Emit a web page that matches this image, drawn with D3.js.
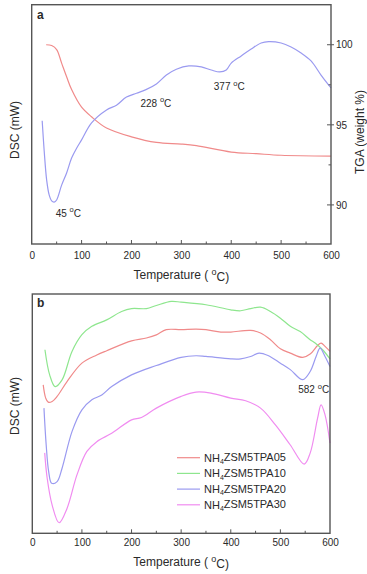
<!DOCTYPE html>
<html><head><meta charset="utf-8">
<script src="https://cdn.jsdelivr.net/npm/d3@7/dist/d3.min.js"></script>
<style>body{margin:0;background:#fff}svg{display:block}text{font-family:Arial,"Liberation Sans",sans-serif;fill:#2a2a2a}</style>
</head><body><svg id="c" width="367" height="574"></svg>
<script>
// ---- Panel a data ----
const dscT = [21,25,30,35,40,45,50,60,70,80,90,100,120,150,170,190,210,228,250,270,290,315,340,360,377,390,400,420,440,460,475,500,520,540,560,580,600];
const dscV = [51.5,39,26.7,20.5,18,17.5,18.4,24.6,29.7,35.9,40,43.5,50.6,56,58,61.4,63,64.4,66.9,70.6,73,74.4,74,72.7,71.9,72.7,75.6,78.6,81.5,84,84.6,84,82.3,79.8,76.5,70.6,65.2];
const tgaT = [29,40,50,60,70,80,100,120,150,200,250,300,330,400,450,500,600];
const tgaV = [100,99.95,99.7,98.85,98,97.2,96.1,95.5,94.8,94.25,93.9,93.8,93.7,93.3,93.2,93.1,93.05];
const tgaTicks = [90,95,100];
const xTicks = [0,100,200,300,400,500,600];
const annotA = [{t:45,label:"45",x:48,v:13},{t:228,label:"228",x:218,v:59},{t:377,label:"377",x:365,v:66}];

// ---- Panel b data ----
const seriesNames = ["NH4ZSM5TPA05","NH4ZSM5TPA10","NH4ZSM5TPA20","NH4ZSM5TPA30"];
const t05 = [22,27,32,40,50,70,100,130,150,200,230,250,270,300,330,350,380,400,440,460,480,500,520,545,560,575,582,590,600];
const v05 = [62,56.5,54.8,55.1,57.2,63.4,71.1,74.5,76.3,80.4,81.6,82.9,85.1,85.1,85.3,85.1,84.1,84.1,84.8,83.7,80.9,77.1,75.3,73.5,74.9,78.5,79.5,78.1,76];
const t10 = [25.5,35,46,60,80,100,120,150,180,200,230,250,280,300,350,400,420,440,460,480,500,520,540,560,570,585,600];
const v10 = [76.7,66.2,61.3,64.1,76,83,86.5,89.2,92.7,93.9,93.9,95.2,96.9,96.6,95.5,93.4,93,93.9,94.5,92.7,89.9,86.5,84.3,80.9,79.5,76.7,72.9];
const t20 = [23.5,28,33,39,50,60,80,100,120,140,160,200,250,300,330,350,400,420,440,457,475,500,520,545,560,572,580,590,600];
const v20 = [52.3,36.9,25.8,20.9,21.6,27.2,42.5,51.6,55.8,57.8,61.3,66.2,70.1,73.5,74.2,73.9,72.9,72.9,73.9,75.3,74.3,71.1,68.4,64.2,67.6,73.9,77.4,73.9,69.7];
const t30 = [25,30,40,54,70,90,110,130,160,200,220,250,300,330,360,400,430,460,490,520,548,560,575,582,590,600];
const v30 = [33.6,23,11.8,4.4,10.4,24.4,34.2,38.3,41.8,47.4,48.4,52.3,57.2,59,58.6,56.5,55.4,52.3,45.3,36.9,28.9,33.5,48.1,53.7,49.5,37.7];
const colors = ["#f08a8a","#8ee68e","#9a9af0","#f08cf0"];

const svg = d3.select("#c");
const frameColor = "#555";

function supText(g, x, y, main, tail, size, anchor){
  const t = g.append("text").attr("x",x).attr("y",y).attr("font-size",size).attr("text-anchor",anchor||"start");
  t.append("tspan").text(main);
  t.append("tspan").attr("dy",-size*0.45).attr("font-size",size*0.75).text("o");
  t.append("tspan").attr("dy",size*0.45).text(tail);
  return t;
}

function xAxisFrame(g, x, y0, y1, labelY, titleY){
  const [l,r] = x.range();
  g.append("rect").attr("x",l).attr("y",y1).attr("width",r-l).attr("height",y0-y1)
    .attr("fill","none").attr("stroke",frameColor).attr("stroke-width",1.4);
  const ax = d3.axisBottom(x).tickValues(xTicks).tickSize(0).tickPadding(0).tickFormat(d3.format("d"));
  const ag = g.append("g").attr("transform",`translate(0,${y0})`).call(ax);
  ag.select(".domain").remove();
  ag.selectAll("text").attr("y",labelY-y0).attr("dy","0.35em").attr("font-size",10).attr("fill","#3a3a3a").attr("font-family","Arial,'Liberation Sans',sans-serif");
  const major = xTicks.slice(1,-1);
  const minor = d3.range(50,600,100);
  g.selectAll(null).data(major).join("line").attr("x1",d=>x(d)).attr("x2",d=>x(d)).attr("y1",y0).attr("y2",y0-4).attr("stroke",frameColor).attr("stroke-width",1);
  g.selectAll(null).data(minor).join("line").attr("x1",d=>x(d)).attr("x2",d=>x(d)).attr("y1",y0).attr("y2",y0-2.5).attr("stroke",frameColor).attr("stroke-width",1);
  const tt = g.append("text").attr("x",(l+r)/2).attr("y",titleY).attr("text-anchor","middle").attr("font-size",12).attr("dy","0.35em");
  tt.append("tspan").text("Temperature ( ");
  tt.append("tspan").attr("dy","-0.45em").attr("font-size",9).text("o");
  tt.append("tspan").attr("dy","0.45em").text("C)");
}

// ---------- Panel a ----------
const ga = svg.append("g");
const xa = d3.scaleLinear().domain([0,600]).range([31.7,331]);
const ya = d3.scaleLinear().domain([0,100]).range([244,4.7]);
const yt = d3.scaleLinear().domain([87.56,102.5]).range([244,4.7]);
const line = (x,y) => d3.line().x(d=>x(d[0])).y(d=>y(d[1])).curve(d3.curveCatmullRom.alpha(0.5));

ga.append("path").datum(d3.zip(tgaT,tgaV)).attr("d",line(xa,yt)).attr("fill","none").attr("stroke","#f08a8a").attr("stroke-width",1.2);
ga.append("path").datum(d3.zip(dscT,dscV)).attr("d",line(xa,ya)).attr("fill","none").attr("stroke","#9a9af0").attr("stroke-width",1.2);
xAxisFrame(ga, xa, 244, 4.7, 255, 275);

// right TGA axis
const ra = d3.axisRight(yt).tickValues(tgaTicks).tickSize(0).tickPadding(0);
const rg = ga.append("g").attr("transform","translate(331,0)").call(ra);
rg.select(".domain").remove();
rg.selectAll("text").attr("x",5).attr("font-size",10).attr("fill","#3a3a3a").attr("font-family","Arial,'Liberation Sans',sans-serif");
ga.selectAll(null).data(tgaTicks).join("line").attr("x1",327).attr("x2",334).attr("y1",d=>yt(d)).attr("y2",d=>yt(d)).attr("stroke",frameColor);
ga.selectAll(null).data([92.5,97.5]).join("line").attr("x1",328.5).attr("x2",331).attr("y1",d=>yt(d)).attr("y2",d=>yt(d)).attr("stroke",frameColor);
ga.append("text").attr("transform","translate(360,132) rotate(-90)").attr("text-anchor","middle").attr("dy","0.35em").attr("font-size",12).text("TGA (weight %)");
ga.append("text").attr("transform","translate(15,130) rotate(-90)").attr("text-anchor","middle").attr("dy","0.35em").attr("font-size",12).text("DSC (mW)");
ga.append("text").attr("x",37).attr("y",19).attr("font-size",12).attr("font-weight","bold").text("a");
annotA.forEach(a=>supText(ga, xa(a.x), ya(a.v)+4, a.label+" ", "C", 10, "start"));

// ---------- Panel b ----------
const gb = svg.append("g");
const xb = d3.scaleLinear().domain([0,600]).range([32.3,330]);
const yb = d3.scaleLinear().domain([0,100]).range([533.3,294]);
const dataB = [d3.zip(t05,v05), d3.zip(t10,v10), d3.zip(t20,v20), d3.zip(t30,v30)];
dataB.forEach((d,i)=>gb.append("path").datum(d).attr("d",line(xb,yb)).attr("fill","none").attr("stroke",colors[i]).attr("stroke-width",1.2));
xAxisFrame(gb, xb, 533.3, 294, 543, 562);
gb.append("text").attr("transform","translate(15,406) rotate(-90)").attr("text-anchor","middle").attr("dy","0.35em").attr("font-size",12).text("DSC (mW)");
gb.append("text").attr("x",37).attr("y",307).attr("font-size",12).attr("font-weight","bold").text("b");
supText(gb, xb(536), yb(58.5), "582 ", "C", 10, "start");

// legend
const lg = gb.append("g");
seriesNames.forEach((n,i)=>{
  const y = 457.7 + i*15.7;
  lg.append("line").attr("x1",177).attr("x2",200).attr("y1",y).attr("y2",y).attr("stroke",colors[i]).attr("stroke-width",1.2);
  const t = lg.append("text").attr("x",204).attr("y",y).attr("dy","0.35em").attr("font-size",11);
  t.append("tspan").text(n.slice(0,2));
  t.append("tspan").attr("font-size",7).attr("dy","0.35em").text(n.slice(2,3));
  t.append("tspan").attr("dy","-0.25em").text(n.slice(3));
});
</script></body></html>
